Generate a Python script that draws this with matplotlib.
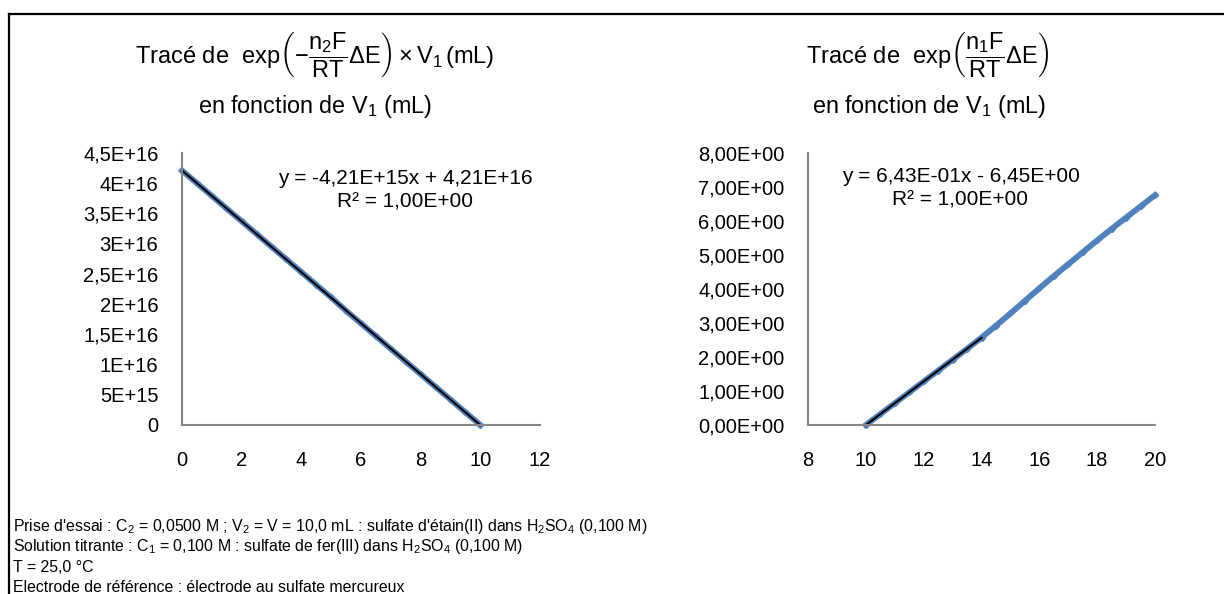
import numpy as np
import matplotlib
matplotlib.use("Agg")
from matplotlib import pyplot as plt
from matplotlib.lines import Line2D

plt.rcParams['font.family'] = ['Liberation Sans', 'DejaVu Sans']
plt.rcParams['mathtext.fontset'] = 'custom'
plt.rcParams['mathtext.rm'] = 'Liberation Sans'
plt.rcParams['mathtext.it'] = 'Liberation Sans:italic'
plt.rcParams['mathtext.bf'] = 'Liberation Sans:bold'

# left plot : exp(-n2F/RT dE) x V1 vs V1
v1_left = [0, 0.5, 1, 1.5, 2, 2.5, 3, 3.5, 4, 4.5, 5, 5.5, 6, 6.5, 7, 7.5, 8, 8.5, 9, 9.5, 10]
y_left = [4.21, 4.00, 3.79, 3.58, 3.37, 3.16, 2.95, 2.74, 2.53, 2.32, 2.11,
          1.89, 1.68, 1.47, 1.26, 1.05, 0.84, 0.63, 0.42, 0.21, 0.00]  # x 1E16
left_yticks = [0, 0.5e16, 1e16, 1.5e16, 2e16, 2.5e16, 3e16, 3.5e16, 4e16, 4.5e16]
left_ylabels = ['0', '5E+15', '1E+16', '1,5E+16', '2E+16', '2,5E+16', '3E+16', '3,5E+16', '4E+16', '4,5E+16']
left_xticks = [0, 2, 4, 6, 8, 10, 12]

# right plot : exp(n1F/RT dE) vs V1
v1_right = [10, 10.5, 11, 11.5, 12, 12.5, 13, 13.5, 14, 14.5, 15, 15.5, 16,
            16.5, 17, 17.5, 18, 18.5, 19, 19.5, 20]
y_right = [0.00, 0.32, 0.64, 0.96, 1.28, 1.60, 1.92, 2.24, 2.57, 2.92, 3.28,
           3.65, 4.02, 4.38, 4.73, 5.08, 5.43, 5.77, 6.10, 6.43, 6.76]
right_fit_max = 14  # trendline fitted only up to 14 mL
right_yticks = [0, 1, 2, 3, 4, 5, 6, 7, 8]
right_ylabels = ['%d,00E+00' % v for v in right_yticks]
right_xticks = [8, 10, 12, 14, 16, 18, 20]

blue = '#4F81BD'
grey = '#868686'
H = 594.0
W = 1224.0

fig = plt.figure(figsize=(12.24, 5.94), dpi=100)

ax1 = fig.add_axes([182/W, 1-425/H, (540-182)/W, (425-153)/H])
ax2 = fig.add_axes([808/W, 1-425/H, (1155-808)/W, (425-153)/H])

for ax in (ax1, ax2):
    for s in ('top', 'right'):
        ax.spines[s].set_visible(False)
    for s in ('left', 'bottom'):
        ax.spines[s].set_color(grey)
        ax.spines[s].set_linewidth(1.5)
    ax.tick_params(length=0, labelsize=14.5)
    ax.tick_params(axis='x', pad=19)
    ax.tick_params(axis='y', pad=17)

# left
xl = np.array(v1_left)
yl = np.array(y_left) * 1e16
ax1.plot(xl, yl, color=blue, lw=4.2, marker='D', ms=3, clip_on=False)
p = np.polyfit(xl, yl, 1)
ax1.plot(xl, np.polyval(p, xl), color='black', lw=1.5, clip_on=False)
ax1.set_xlim(0, 12)
ax1.set_ylim(0, 4.5e16)
ax1.set_xticks(left_xticks)
ax1.set_yticks(left_yticks)
ax1.set_yticklabels(left_ylabels)

# right
xr = np.array(v1_right)
yr = np.array(y_right)
ax2.plot(xr, yr, color=blue, lw=4.2, marker='D', ms=3, clip_on=False)
m = xr <= right_fit_max
p2 = np.polyfit(xr[m], yr[m], 1)
ax2.plot(xr[m], np.polyval(p2, xr[m]), color='black', lw=1.5, clip_on=False)
ax2.set_xlim(8, 20)
ax2.set_ylim(0, 8)
ax2.set_xticks(right_xticks)
ax2.set_yticks(right_yticks)
ax2.set_yticklabels(right_ylabels)

# trendline labels
fig.text(405/W, 1-178/H, 'y = -4,21E+15x + 4,21E+16', ha='center', va='center', fontsize=15)
fig.text(405/W, 1-202/H, 'R² = 1,00E+00', ha='center', va='center', fontsize=15)
fig.text(961/W, 1-176/H, 'y = 6,43E-01x - 6,45E+00', ha='center', va='center', fontsize=15)
fig.text(960/W, 1-200/H, 'R² = 1,00E+00', ha='center', va='center', fontsize=15)

# titles
fig.text(315/W, 1-55/H,
         r'Tracé de  $\mathrm{exp}\left(-\dfrac{\mathrm{n_2F}}{\mathrm{RT}}\Delta\mathrm{E}\right)\times\mathrm{V_1}\,\mathrm{(mL)}$',
         ha='center', va='center', fontsize=17)
fig.text(315/W, 1-107/H, r'en fonction de V$_1$ (mL)', ha='center', va='center', fontsize=16.8)
fig.text(928/W, 1-55/H,
         r'Tracé de  $\mathrm{exp}\left(\dfrac{\mathrm{n_1F}}{\mathrm{RT}}\Delta\mathrm{E}\right)$',
         ha='center', va='center', fontsize=17)
fig.text(929/W, 1-107/H, r'en fonction de V$_1$ (mL)', ha='center', va='center', fontsize=16.8)

# notes
notes = [
    r"Prise d'essai : C$_2$ = 0,0500 M ; V$_2$ = V = 10,0 mL : sulfate d'étain(II) dans H$_2$SO$_4$ (0,100 M)",
    r"Solution titrante : C$_1$ = 0,100 M : sulfate de fer(III) dans H$_2$SO$_4$ (0,100 M)",
    r"T = 25,0 °C",
    r"Electrode de référence : électrode au sulfate mercureux",
]
for i, t in enumerate(notes):
    fig.text(13/W, 1-(526 + i*20.5)/H, t, ha='left', va='center', fontsize=11.4)

# frame
fig.add_artist(Line2D([9/W, 9/W], [0, 1-14/H], transform=fig.transFigure, color='black', lw=1.6))
fig.add_artist(Line2D([9/W, 1], [1-14/H, 1-14/H], transform=fig.transFigure, color='black', lw=1.6))

fig.savefig('out.png', dpi=100)
